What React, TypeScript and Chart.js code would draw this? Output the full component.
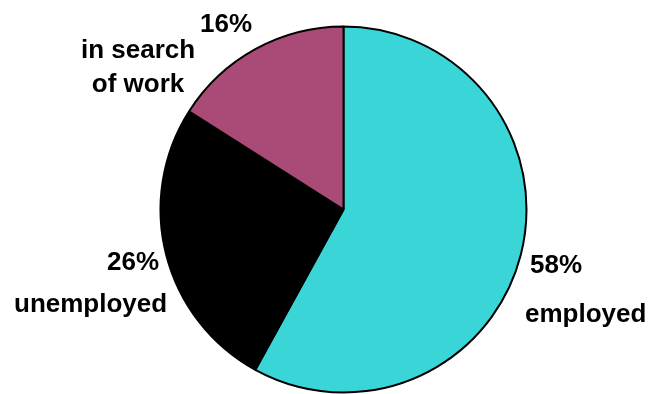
import React, { useEffect, useRef } from "react";
import { Chart, registerables } from "chart.js";

Chart.register(...registerables);

const categories = ["employed", "unemployed", "in search\nof work"];
const shares = [58, 26, 16];
const sliceColors = ["#3AD6D7", "#000000", "#AA4B77"];

// label anchor points (layout only)
const labelLayout = [
  { pct: [530, 273], name: [525, 322] },
  { pct: [107, 270], name: [14, 312] },
  { pct: [200, 32], name: [81, 58], lineGap: 34 },
];

const labelPlugin = {
  id: "sliceLabels",
  afterDraw(chart: any) {
    const ctx = chart.ctx;
    ctx.save();
    ctx.fillStyle = "#000";
    ctx.font = "bold 26px 'Liberation Sans', Arial, sans-serif";
    ctx.textAlign = "left";
    ctx.textBaseline = "alphabetic";
    categories.forEach((cat, i) => {
      const lay = labelLayout[i];
      ctx.fillText(`${shares[i]}%`, lay.pct[0], lay.pct[1]);
      const lines = cat.split("\n");
      lines.forEach((ln, j) => {
        let x = lay.name[0];
        if (j > 0) {
          const w0 = ctx.measureText(lines[0]).width;
          const w = ctx.measureText(ln).width;
          x = lay.name[0] + (w0 - w) / 2;
        }
        ctx.fillText(ln, x, lay.name[1] + j * (lay.lineGap || 0));
      });
    });
    ctx.restore();
  },
};

export default function App() {
  const ref = useRef<HTMLCanvasElement>(null);
  useEffect(() => {
    if (!ref.current) return;
    const chart = new Chart(ref.current, {
      type: "pie",
      data: {
        labels: categories,
        datasets: [
          {
            data: shares,
            backgroundColor: sliceColors,
            borderColor: "#000",
            borderWidth: 2,
          },
        ],
      },
      options: {
        responsive: false,
        animation: false,
        radius: 183,
        layout: { padding: { left: 32, right: 0, top: 25, bottom: 0 } },
        plugins: { legend: { display: false }, tooltip: { enabled: false } },
      } as any,
      plugins: [labelPlugin],
    });
    return () => chart.destroy();
  }, []);
  return (
    <div style={{ position: "fixed", left: 0, top: 0, width: 655, height: 394, background: "#fff" }}>
      <canvas ref={ref} width={655} height={394} />
    </div>
  );
}
